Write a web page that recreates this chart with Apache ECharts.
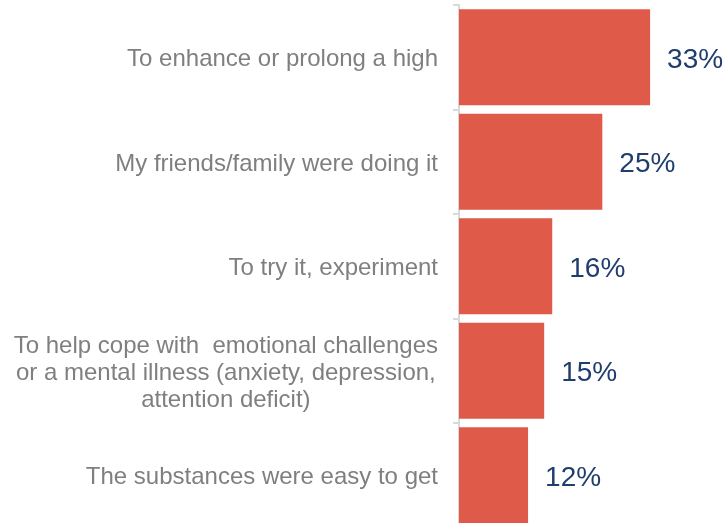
<!DOCTYPE html>
<html>
<head>
<meta charset="utf-8">
<script src="https://cdn.jsdelivr.net/npm/echarts@6/dist/echarts.min.js"></script>
<style>
  html, body { margin: 0; padding: 0; background: #ffffff; overflow: hidden; }
  #chart { width: 726px; height: 523px; }
</style>
</head>
<body>
<div id="chart"></div>
<script>
const categories = [
  "To enhance or prolong a high",
  "My friends/family were doing it",
  "To try it, experiment",
  "To help cope with  emotional challenges\nor a mental illness (anxiety, depression,\nattention deficit)",
  "The substances were easy to get"
];
const values = [33.2, 24.9, 16.2, 14.8, 12.0];
const valueLabels = ["33%", "25%", "16%", "15%", "12%"];

const chart = echarts.init(document.getElementById('chart'), null, { renderer: 'canvas' });
const FONT = '"Liberation Sans", Arial, sans-serif';

chart.setOption({
  animation: false,
  backgroundColor: '#ffffff',
  grid: { left: 459, top: 5, width: 259, height: 522.5, containLabel: false, outerBoundsMode: 'none' },
  xAxis: {
    type: 'value',
    min: 0,
    max: 45,
    show: false,
    splitLine: { show: false }
  },
  yAxis: {
    type: 'category',
    data: categories,
    inverse: true,
    axisLine: { show: true, lineStyle: { color: '#D9D9D9', width: 2 } },
    axisTick: { show: true, length: 6, lineStyle: { color: '#D9D9D9', width: 2 } },
    axisLabel: {
      margin: 21,
      fontSize: 24,
      color: '#7F7F7F',
      fontFamily: FONT,
      lineHeight: 27,
      padding: [5, 0, 0, 0],
      formatter: function (v) {
        return v.split('\n').map(function (s) { return '{c|' + s + '}'; }).join('\n');
      },
      rich: {
        c: { align: 'center', fontSize: 24, color: '#7F7F7F', fontFamily: FONT, lineHeight: 27 }
      }
    }
  },
  series: [{
    type: 'bar',
    data: values,
    barCategoryGap: '8%',
    itemStyle: { color: '#E05A4A' },
    label: {
      show: true,
      position: 'right',
      distance: 17,
      offset: [0, 3],
      fontSize: 28,
      color: '#1F3D6E',
      fontFamily: FONT,
      formatter: function (p) { return valueLabels[p.dataIndex]; }
    }
  }]
});
</script>
</body>
</html>
